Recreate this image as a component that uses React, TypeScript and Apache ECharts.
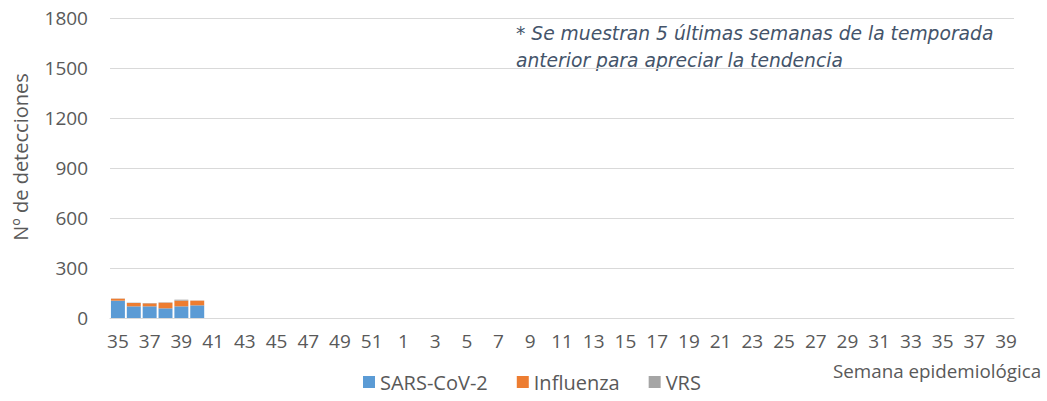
import React, { useEffect, useRef } from "react";
import * as echarts from "echarts";

const weeksPrev = [35, 36, 37, 38, 39, 40, 41, 42, 43, 44, 45, 46, 47, 48, 49, 50, 51, 52];
const weeksCur = [1, 2, 3, 4, 5, 6, 7, 8, 9, 10, 11, 12, 13, 14, 15, 16, 17, 18, 19, 20, 21, 22, 23, 24, 25, 26, 27, 28, 29, 30, 31, 32, 33, 34, 35, 36, 37, 38, 39];
const categories = [...weeksPrev, ...weeksCur].map(String);

const sarsCov2 = [104, 70, 70, 58, 70, 76];
const influenza = [12, 20, 18, 34, 34, 28];
const vrs = [1, 2, 2, 2, 6, 1];

const yTicks = { min: 0, max: 1800, interval: 300 };

const pad = (arr: number[]) => categories.map((_, i) => (i < arr.length ? arr[i] : null));

export default function App() {
  const ref = useRef<HTMLDivElement>(null);
  useEffect(() => {
    if (!ref.current) return;
    const chart = echarts.init(ref.current, null, { renderer: "svg" });
    const font = "'Open Sans', 'Noto Sans', sans-serif";
    const textColor = "#595959";
    chart.setOption({
      animation: false,
      textStyle: { fontFamily: font },
      grid: { left: 110, right: 33, top: 18, bottom: 83, containLabel: false },
      legend: {
        top: 372,
        left: 363,
        padding: 0,
        icon: "rect",
        itemWidth: 12,
        itemHeight: 12,
        itemGap: 29,
        textStyle: { color: textColor, fontSize: 20, fontFamily: font },
        data: ["SARS-CoV-2", "Influenza", "VRS"],
      },
      xAxis: {
        type: "category",
        data: categories,
        axisLine: { lineStyle: { color: "#D9D9D9", width: 1 } },
        axisTick: { show: false },
        axisLabel: { interval: 1, color: textColor, fontSize: 19, margin: 13 },
      },
      yAxis: {
        type: "value",
        min: yTicks.min,
        max: yTicks.max,
        interval: yTicks.interval,
        axisLine: { show: false },
        axisTick: { show: false },
        splitLine: { lineStyle: { color: "#D9D9D9", width: 1 } },
        axisLabel: { color: textColor, fontSize: 19, margin: 22, formatter: (v: number) => String(v) },
      },
      graphic: [
        {
          type: "text",
          x: 20,
          y: 157,
          rotation: Math.PI / 2,
          style: {
            text: "Nº de detecciones",
            fill: textColor,
            fontSize: 20,
            fontFamily: font,
            align: "center",
            verticalAlign: "middle",
          },
        },
        {
          type: "text",
          x: 833,
          y: 371,
          style: {
            text: "Semana epidemiológica",
            fill: textColor,
            fontSize: 18.8,
            fontFamily: font,
            align: "left",
            verticalAlign: "middle",
          },
        },
        {
          type: "text",
          x: 516,
          y: 33,
          style: {
            text: "* Se muestran 5 últimas semanas de la temporada",
            fill: "#44546A",
            fontSize: 18.7,
            fontStyle: "italic",
            fontFamily: "'DejaVu Sans', sans-serif",
            align: "left",
            verticalAlign: "middle",
          },
        },
        {
          type: "text",
          x: 516,
          y: 60,
          style: {
            text: "anterior para apreciar la tendencia",
            fill: "#44546A",
            fontSize: 18.7,
            fontStyle: "italic",
            fontFamily: "'DejaVu Sans', sans-serif",
            align: "left",
            verticalAlign: "middle",
          },
        },
      ],
      series: [
        {
          name: "SARS-CoV-2",
          type: "bar",
          stack: "total",
          data: pad(sarsCov2),
          barCategoryGap: "12%",
          itemStyle: { color: "#5B9BD5" },
        },
        {
          name: "Influenza",
          type: "bar",
          stack: "total",
          data: pad(influenza),
          itemStyle: { color: "#ED7D31" },
        },
        {
          name: "VRS",
          type: "bar",
          stack: "total",
          data: pad(vrs),
          itemStyle: { color: "#A5A5A5" },
        },
      ],
    });
    return () => chart.dispose();
  }, []);
  return <div ref={ref} style={{ width: 1047, height: 401, position: "absolute", left: 0, top: 0 }} />;
}
